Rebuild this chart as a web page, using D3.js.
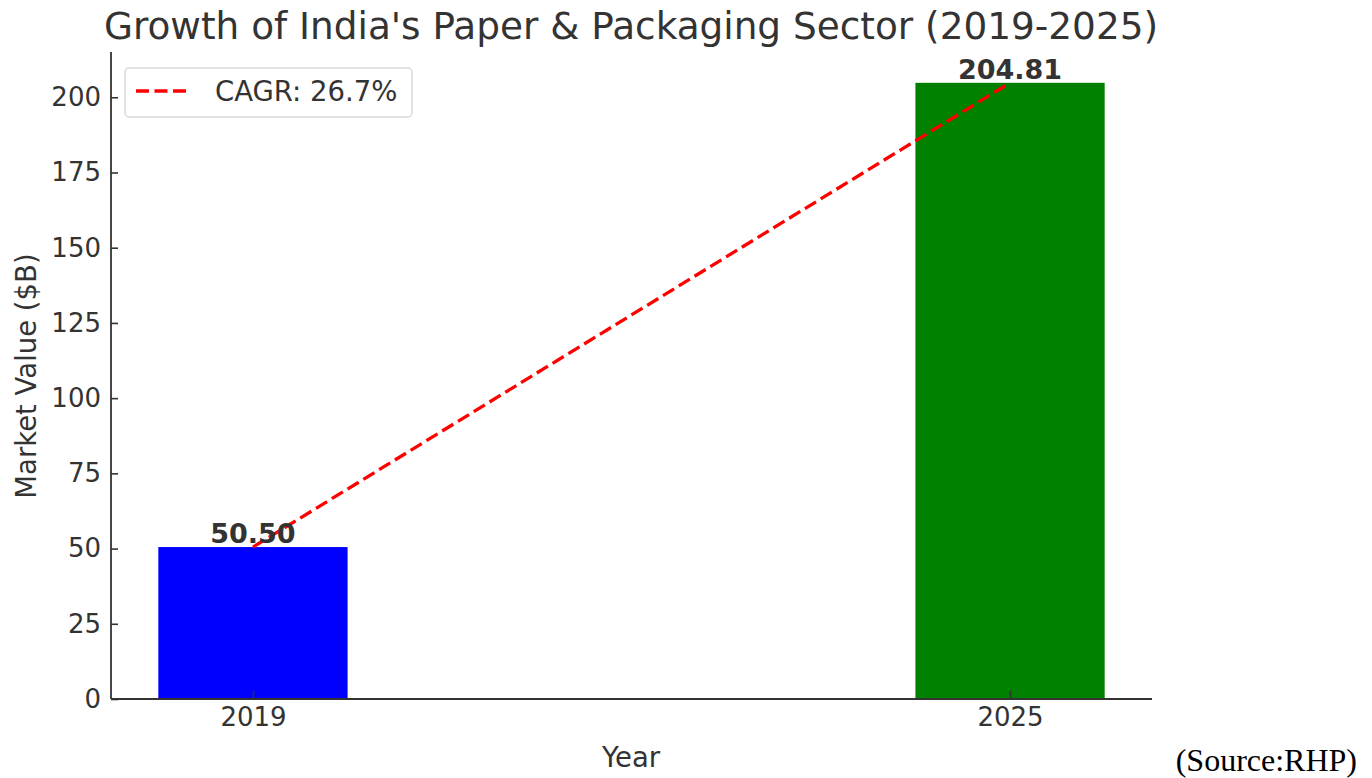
<!DOCTYPE html>
<html><head><meta charset="utf-8">
<script src="https://cdn.jsdelivr.net/npm/d3@7"></script>
<style>body{margin:0;background:#fff}svg{display:block}</style>
</head><body><svg id="c" width="1372" height="778"></svg>
<script>
const years = ["2019", "2025"];
const values = [50.50, 204.81];
const barColors = ["#0000ff", "#008000"];
const yTicks = [0, 25, 50, 75, 100, 125, 150, 175, 200];
const cagrLabel = "CAGR: 26.7%";

const svg = d3.select("#c");
const m = {l:111, r:1152, t:52, b:699};
const x = d3.scaleLinear().domain([-0.1875, 1.1875]).range([m.l, m.r]);
const y = d3.scaleLinear().domain([0, 215.05]).range([m.b, m.t]);
const bw = x(0.25) - x(0);
const txt = "#333333";
const font = "DejaVu Sans, sans-serif";

svg.selectAll("rect.bar").data(values).enter().append("rect")
  .attr("x", (d,i)=>x(i)-bw/2).attr("y", d=>y(d))
  .attr("width", bw).attr("height", d=>y(0)-y(d))
  .attr("fill", (d,i)=>barColors[i]);

// dashed CAGR line
svg.append("path")
  .attr("d", d3.line().x((d,i)=>x(i)).y(d=>y(d))(values))
  .attr("fill","none").attr("stroke","#ff0000").attr("stroke-width",3.3)
  .attr("stroke-dasharray","13,5.5");

// value labels
svg.selectAll("text.val").data(values).enter().append("text")
  .attr("x",(d,i)=>x(i)).attr("y",d=>y(d)-4)
  .attr("text-anchor","middle").attr("font-family",font).attr("font-weight","bold")
  .attr("font-size",27).attr("fill",txt).text(d=>d.toFixed(2));

// axes (ticks point inward)
const yAxis = svg.append("g").attr("transform",`translate(${m.l},0)`)
  .call(d3.axisLeft(y).tickValues(yTicks).tickSize(-7).tickPadding(10));
const xAxis = svg.append("g").attr("transform",`translate(0,${m.b})`)
  .call(d3.axisBottom(x).tickValues([0,1]).tickFormat(i=>years[i]).tickSize(-8).tickPadding(9));
[yAxis,xAxis].forEach(g=>{
  g.selectAll("text").attr("font-family",font).attr("font-size",26).attr("fill",txt);
  g.selectAll("line").attr("stroke",txt).attr("stroke-width",1.6);
  g.select(".domain").attr("stroke",txt).attr("stroke-width",1.8);
});
yAxis.select(".domain").attr("d",`M0,${m.b}V${m.t}`);
xAxis.select(".domain").attr("d",`M${m.l},0H${m.r}`);

// title and labels
svg.append("text").attr("x",631).attr("y",39).attr("text-anchor","middle")
  .attr("font-family",font).attr("font-size",37.4).attr("fill",txt)
  .text("Growth of India's Paper & Packaging Sector (2019-2025)");
svg.append("text").attr("x",631).attr("y",767).attr("text-anchor","middle")
  .attr("font-family",font).attr("font-size",27.5).attr("fill",txt).text("Year");
svg.append("text").attr("transform","translate(36,376) rotate(-90)").attr("text-anchor","middle")
  .attr("font-family",font).attr("font-size",27.5).attr("fill",txt).text("Market Value ($B)");

// legend
const lg = svg.append("g");
lg.append("rect").attr("x",125).attr("y",68).attr("width",287).attr("height",49).attr("rx",4)
  .attr("fill","#fff").attr("stroke","#d9d9d9").attr("stroke-width",1.5);
lg.append("line").attr("x1",136).attr("x2",187).attr("y1",91).attr("y2",91)
  .attr("stroke","#ff0000").attr("stroke-width",3.3).attr("stroke-dasharray","13,5.5");
lg.append("text").attr("x",215).attr("y",101).attr("font-family",font).attr("font-size",27.5)
  .attr("fill",txt).text(cagrLabel);

// source
svg.append("text").attr("x",1357).attr("y",771).attr("text-anchor","end")
  .attr("font-family","Liberation Serif, serif").attr("font-size",32).attr("fill","#000").text("(Source:RHP)");
</script></body></html>
